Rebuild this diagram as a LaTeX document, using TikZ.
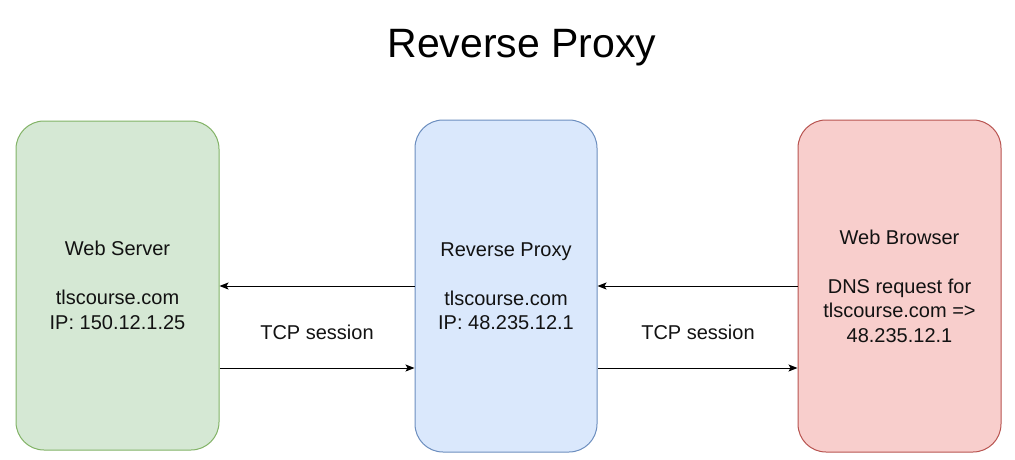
\documentclass[tikz,border=0pt]{standalone}
\usepackage{fontspec}
\setmainfont{Liberation Sans}
\usetikzlibrary{arrows.meta}
\definecolor{gfill}{HTML}{D5E8D4}\definecolor{gline}{HTML}{82B366}
\definecolor{bfill}{HTML}{DAE8FC}\definecolor{bline}{HTML}{6C8EBF}
\definecolor{rfill}{HTML}{F8CECC}\definecolor{rline}{HTML}{B85450}
\tikzset{
  box/.style={rounded corners=28pt, line width=1pt, align=center, inner sep=0pt,
    font=\fontsize{20}{24.5}\selectfont, text=black!93},
  arr/.style={line width=1pt, -{Stealth[length=9pt,width=7pt,inset=2pt]}},
  lbl/.style={font=\fontsize{20}{24}\selectfont, text=black!93}
}
\begin{document}
\begin{tikzpicture}[x=1pt,y=-1pt]
\useasboundingbox[fill=white] (0,0) rectangle (1015,460);
\node[font=\fontsize{41}{48}\selectfont] (title) at (522,48) {Reverse Proxy};
\node[box, fill=gfill, draw=gline, minimum width=203pt, minimum height=329pt] (server) at (117.5,285.5)
  {Web Server\\[24.5pt] tlscourse.com\\IP: 150.12.1.25};
\node[box, fill=bfill, draw=bline, minimum width=182pt, minimum height=332pt] (proxy) at (506,286)
  {Reverse Proxy\\[24.5pt] tlscourse.com\\IP: 48.235.12.1};
\node[box, fill=rfill, draw=rline, minimum width=203pt, minimum height=332pt] (browser) at (899.5,286)
  {Web Browser\\[24.5pt] DNS request for\\tlscourse.com =>\\48.235.12.1};
\draw[arr] (proxy.west) -- (server.east |- proxy.west);
\draw[arr] ([yshift=-82pt]server.east |- proxy.west) -- ([yshift=-82pt]proxy.west);
\draw[arr] (browser.west) -- (proxy.east);
\draw[arr] ([yshift=-82pt]proxy.east) -- ([yshift=-82pt]browser.west);
\node[lbl] (tcp1) at (317,332) {TCP session};
\node[lbl] (tcp2) at (698,332) {TCP session};
\end{tikzpicture}
\end{document}
